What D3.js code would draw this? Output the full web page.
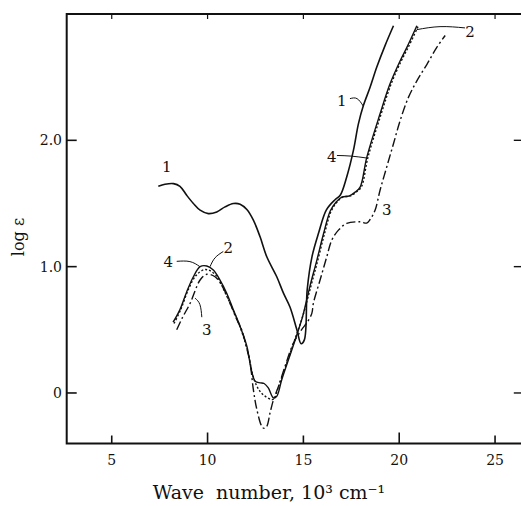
<!DOCTYPE html>
<html>
<head>
<meta charset="utf-8">
<script src="https://cdn.jsdelivr.net/npm/d3@7"></script>
<style>
  body { margin: 0; background: #fff; }
  text { font-family: "DejaVu Serif", serif; fill: #111; }
</style>
</head>
<body>
<div id="chart"></div>
<script>
// x ticks and y ticks
var xTicks = [5, 10, 15, 20, 25];
var yTicks = [0, 1, 2];
var yTickLabels = ["0", "1.0", "2.0"];

// curve 1 (solid)
var wave1 = [7.43, 7.78, 8.22, 8.56, 8.91, 9.26, 9.61, 10.04, 10.48, 10.91, 11.35, 11.7, 12.05, 12.39, 12.74, 13.09, 13.61, 13.96, 14.3, 14.66, 14.88, 15.05, 15.2, 15.45, 15.8, 16.2, 16.65, 16.92, 17.26, 17.61, 17.87, 18.13, 18.48, 18.83, 19.26, 19.7];
var loge1 = [1.636, 1.652, 1.657, 1.636, 1.565, 1.5, 1.447, 1.42, 1.433, 1.473, 1.5, 1.494, 1.452, 1.368, 1.236, 1.078, 0.92, 0.79, 0.68, 0.5, 0.39, 0.42, 0.82, 1.08, 1.27, 1.45, 1.53, 1.565, 1.71, 1.92, 2.13, 2.275, 2.42, 2.58, 2.75, 2.907];

// curve 2 (solid)
var wave2 = [8.2, 8.56, 8.91, 9.26, 9.61, 9.96, 10.3, 10.65, 11.0, 11.35, 11.7, 12.05, 12.3, 12.5, 12.75, 12.95, 13.17, 13.44, 13.61, 13.87, 14.22, 14.57, 14.95, 15.35, 15.7, 16.05, 16.4, 16.7, 17.0, 17.4, 17.7, 17.96, 18.31, 19.0, 19.52, 20.05, 20.4, 20.92];
var loge2 = [0.56, 0.66, 0.8, 0.92, 1.0, 1.005, 0.973, 0.894, 0.79, 0.657, 0.526, 0.37, 0.17, 0.09, 0.08, 0.075, 0.04, -0.04, -0.027, 0.105, 0.263, 0.42, 0.6, 0.85, 1.05, 1.26, 1.44, 1.51, 1.55, 1.56, 1.59, 1.63, 1.867, 2.21, 2.447, 2.63, 2.736, 2.907];

// curve 3 (dash-dot)
var wave3 = [8.39, 8.7, 9.09, 9.61, 9.96, 10.39, 10.82, 11.2, 11.5, 11.78, 12.0, 12.22, 12.39, 12.57, 12.83, 12.95, 13.09, 13.26, 13.44, 13.7, 14.04, 14.48, 14.9, 15.2, 15.44, 15.52, 15.87, 16.22, 16.48, 16.83, 17.26, 17.96, 18.3, 18.48, 18.74, 19.0, 19.35, 19.7, 20.05, 20.48, 20.92, 21.44, 21.96, 22.4];
var loge3 = [0.5, 0.6, 0.71, 0.894, 0.94, 0.92, 0.83, 0.7, 0.59, 0.5, 0.38, 0.237, 0.026, -0.13, -0.264, -0.28, -0.264, -0.158, -0.053, 0.052, 0.21, 0.395, 0.5, 0.56, 0.63, 0.71, 0.894, 1.078, 1.21, 1.289, 1.342, 1.355, 1.345, 1.373, 1.447, 1.605, 1.79, 1.973, 2.157, 2.34, 2.47, 2.6, 2.736, 2.83];

// curve 4 (dotted)
var wave4 = [8.25, 8.6, 9.0, 9.4, 9.8, 10.1, 10.5, 10.9, 11.35, 11.75, 12.1, 12.4, 12.7, 12.95, 13.3, 13.45, 13.7, 14.05, 14.5, 14.95, 15.4, 15.75, 16.1, 16.45, 16.75, 17.05, 17.45, 17.75, 18.02, 18.37, 19.06, 19.58, 20.11, 20.47, 21.0];
var loge4 = [0.55, 0.66, 0.82, 0.93, 0.975, 0.97, 0.92, 0.8, 0.65, 0.5, 0.33, 0.12, 0.02, -0.02, -0.05, -0.05, 0.05, 0.2, 0.4, 0.6, 0.85, 1.05, 1.26, 1.44, 1.51, 1.55, 1.56, 1.59, 1.63, 1.867, 2.21, 2.447, 2.63, 2.736, 2.907];

// curve labels
var labelText = ["1", "1", "4", "2", "3", "4", "2", "3"];
var labelX = [7.87, 17.0, 16.48, 23.7, 19.35, 7.95, 11.08, 9.96];
var labelY = [1.79, 2.31, 1.87, 2.86, 1.45, 1.04, 1.15, 0.5];

var width = 521, height = 506;

var x = d3.scaleLinear().domain([2.65, 26.5]).range([66.7, 523.8]);
var y = d3.scaleLinear().domain([-0.4, 3.0]).range([443.5, 14]);

var svg = d3.select("#chart")
    .append("svg")
    .attr("width", width)
    .attr("height", height);

// frame
svg.append("rect")
    .attr("x", x(2.65))
    .attr("y", y(3.0))
    .attr("width", x(26.5) - x(2.65))
    .attr("height", y(-0.4) - y(3.0))
    .attr("fill", "none")
    .attr("stroke", "#111")
    .attr("stroke-width", 2);

// ticks on the bottom, pointing in
svg.selectAll(".xtick-b")
    .data(xTicks)
    .enter().append("line")
    .attr("x1", function(d){ return x(d); })
    .attr("x2", function(d){ return x(d); })
    .attr("y1", y(-0.4))
    .attr("y2", function(d){ return y(-0.4) - (d % 10 == 0 ? 11 : 8); })
    .attr("stroke", "#111")
    .attr("stroke-width", 1.6);

svg.selectAll(".xtick-t")
    .data(xTicks)
    .enter().append("line")
    .attr("x1", function(d){ return x(d); })
    .attr("x2", function(d){ return x(d); })
    .attr("y1", y(3.0))
    .attr("y2", y(3.0) + 5)
    .attr("stroke", "#111")
    .attr("stroke-width", 1.2);

svg.selectAll(".xlabel")
    .data(xTicks)
    .enter().append("text")
    .attr("x", function(d){ return x(d); })
    .attr("y", 465)
    .attr("text-anchor", "middle")
    .style("font-size", "14px")
    .text(function(d){ return d; });

// y ticks, inside both sides
svg.selectAll(".ytick-l")
    .data(yTicks)
    .enter().append("line")
    .attr("x1", x(2.65))
    .attr("x2", x(2.65) + 10)
    .attr("y1", function(d){ return y(d); })
    .attr("y2", function(d){ return y(d); })
    .attr("stroke", "#111")
    .attr("stroke-width", 1.6);

svg.selectAll(".ytick-r")
    .data(yTicks)
    .enter().append("line")
    .attr("x1", x(26.5))
    .attr("x2", x(26.5) - 10)
    .attr("y1", function(d){ return y(d); })
    .attr("y2", function(d){ return y(d); })
    .attr("stroke", "#111")
    .attr("stroke-width", 1.4);

svg.selectAll(".ylabel")
    .data(yTicks)
    .enter().append("text")
    .attr("x", 62)
    .attr("y", function(d){ return y(d) + 5; })
    .attr("text-anchor", "end")
    .style("font-size", "14px")
    .text(function(d, i){ return yTickLabels[i]; });

// axis titles
svg.append("text")
    .attr("x", 269)
    .attr("y", 499)
    .attr("text-anchor", "middle")
    .style("font-size", "19px")
    .text("Wave\u00a0 number, 10\u00b3 cm\u207b\u00b9");

svg.append("text")
    .attr("transform", "translate(24,237) rotate(-90)")
    .attr("text-anchor", "middle")
    .style("font-size", "16px")
    .text("log \u03b5");

// curves
var line = d3.line()
    .x(function(d){ return x(d[0]); })
    .y(function(d){ return y(d[1]); })
    .curve(d3.curveCatmullRom.alpha(0.5));

function drawCurve(xs, ys, dash, w) {
    svg.append("path")
        .datum(d3.zip(xs, ys))
        .attr("d", line)
        .attr("fill", "none")
        .attr("stroke", "#111")
        .attr("stroke-width", w)
        .attr("stroke-dasharray", dash)
        .attr("stroke-linejoin", "round");
}
drawCurve(wave1, loge1, null, 1.6);
drawCurve(wave2, loge2, null, 1.4);
drawCurve(wave3, loge3, "9,3,2,3", 1.4);
drawCurve(wave4, loge4, "2,2", 1.4);

// curve labels
svg.selectAll(".clabel")
    .data(labelText)
    .enter().append("text")
    .attr("x", function(d, i){ return x(labelX[i]); })
    .attr("y", function(d, i){ return y(labelY[i]) + 5; })
    .attr("text-anchor", "middle")
    .style("font-size", "15px")
    .text(function(d){ return d; });

// leader lines
var leaders = [
    [[17.43, 2.33], [17.8, 2.33], [18.13, 2.27]],
    [[16.75, 1.88], [17.5, 1.875], [18.3, 1.86]],
    [[23.43, 2.89], [22.13, 2.9], [20.91, 2.876]],
    [[8.39, 1.042], [9.08, 1.04], [9.6, 1.0]],
    [[10.82, 1.12], [10.39, 1.07], [10.13, 1.0]],
    [[9.7, 0.6], [9.6, 0.7], [9.35, 0.75]]
];
var leaderLine = d3.line()
    .x(function(d){ return x(d[0]); })
    .y(function(d){ return y(d[1]); })
    .curve(d3.curveNatural);

svg.selectAll(".leader")
    .data(leaders)
    .enter().append("path")
    .attr("d", leaderLine)
    .attr("fill", "none")
    .attr("stroke", "#111")
    .attr("stroke-width", 1);
</script>
</body>
</html>
